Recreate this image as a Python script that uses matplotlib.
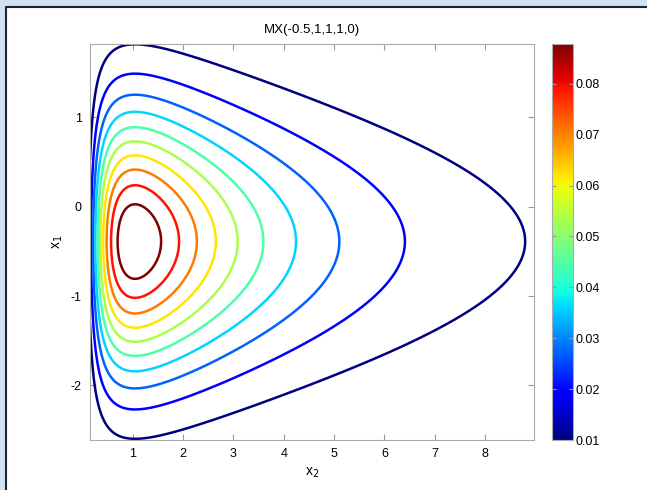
import numpy as np
import matplotlib
matplotlib.use("Agg")
import matplotlib.pyplot as plt
from matplotlib.patches import Rectangle
from matplotlib.lines import Line2D
from matplotlib.colors import Normalize
from matplotlib.cm import ScalarMappable
from matplotlib.ticker import FormatStrFormatter

levels = [0.0100, 0.0186, 0.0273, 0.0359, 0.0446, 0.0532, 0.0619, 0.0705, 0.0792, 0.0878]
cbar_ticks = [0.01, 0.02, 0.03, 0.04, 0.05, 0.06, 0.07, 0.08]
x_ticks = [1, 2, 3, 4, 5, 6, 7, 8]
y_ticks = [-2, -1, 0, 1]

# density parameters estimated from the contour shapes
amp = 0.1645
mu1, s1 = -0.39, 1.0395     # x1: normal
mu2, s2 = 1.051, 1.0036     # x2: lognormal
x2_range = (0.15, 8.97)
x1_range = (-2.61, 1.82)

plt.rcParams['font.family'] = ['Liberation Sans', 'DejaVu Sans']
plt.rcParams['axes.unicode_minus'] = False

fig = plt.figure(figsize=(6.47, 4.90), dpi=100, facecolor='#d0e2f2')
# white panel with a dark edge on the left and top only
x0, y0 = 6 / 647, 1 - 7.5 / 490
fig.patches.append(Rectangle((x0, 0), 1 - x0, y0, transform=fig.transFigure,
                             facecolor='white', edgecolor='none', zorder=-5))
fig.lines.append(Line2D([x0, x0, 1], [0, y0, y0], transform=fig.transFigure,
                        color='#222222', lw=1.5, zorder=-4))
ax = fig.add_axes([90 / 647, 50 / 490, 444 / 647, 396 / 490])
cax = fig.add_axes([552 / 647, 50 / 490, 21 / 647, 396 / 490])
ax.set_zorder(2)
cax.set_zorder(2)

X2, X1 = np.meshgrid(np.linspace(x2_range[0], x2_range[1], 500), np.linspace(x1_range[0], x1_range[1], 500))
Z = amp * np.exp(-(X1 - mu1)**2 / (2 * s1**2)) * np.exp(-(np.log(X2) - mu2)**2 / (2 * s2**2)) / X2

norm = Normalize(levels[0], levels[-1])
ax.contour(X2, X1, Z, levels=levels, cmap='jet', norm=norm, linewidths=1.8)
ax.set_xlim(*x2_range)
ax.set_ylim(*x1_range)
ax.set_xticks(x_ticks)
ax.set_yticks(y_ticks)
ax.tick_params(direction='in', top=True, right=True, length=4, labelsize=9, color='#999999', pad=6)
for s in ax.spines.values():
    s.set_color('#aaaaaa')
ax.set_xlabel('x$_2$', fontsize=10, labelpad=4)
ax.set_ylabel('x$_1$', fontsize=10, labelpad=4)
ax.set_title('MX(-0.5,1,1,1,0)', fontsize=9.5, pad=8)

cb = fig.colorbar(ScalarMappable(norm=norm, cmap='jet'), cax=cax)
cb.set_ticks(cbar_ticks)
cb.ax.yaxis.set_major_formatter(FormatStrFormatter('%.2f'))
cb.ax.tick_params(direction='in', left=True, right=True, length=3, labelsize=9, color='#999999', pad=2)
cb.outline.set_edgecolor('#aaaaaa')

fig.savefig("out.png", facecolor=fig.get_facecolor())
